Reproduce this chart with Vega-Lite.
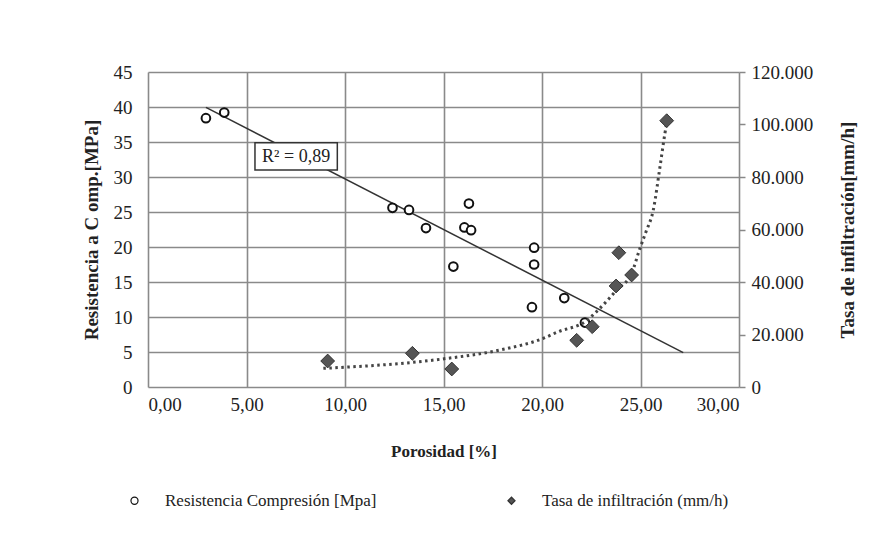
{
  "$schema": "https://vega.github.io/schema/vega-lite/v6.json",
  "width": 591,
  "height": 315,
  "autosize": {"type": "none"},
  "padding": {"left": 148, "top": 72, "right": 154, "bottom": 160},
  "background": "white",
  "config": {
    "locale": {"number": {"decimal": ",", "thousands": ".", "grouping": [3], "currency": ["", " €"]}},
    "font": "Liberation Serif",
    "view": {"stroke": null},
    "axis": {
      "gridColor": "#8a8a8a",
      "gridWidth": 1.6,
      "gridOpacity": 1,
      "domain": false,
      "labelFont": "Liberation Serif",
      "labelFontSize": 19,
      "labelColor": "#222",
      "titleFont": "Liberation Serif",
      "titleFontSize": 17,
      "titleColor": "#222",
      "titleFontWeight": "bold"
    },
    "legend": {
      "labelLimit": 400
    }
  },
  "datasets": {
    "resistencia": [
      {"porosidad": 2.94, "valor": 38.4, "serie": "Resistencia Compresión [Mpa]"},
      {"porosidad": 3.87, "valor": 39.2, "serie": "Resistencia Compresión [Mpa]"},
      {"porosidad": 12.41, "valor": 25.6, "serie": "Resistencia Compresión [Mpa]"},
      {"porosidad": 13.25, "valor": 25.3, "serie": "Resistencia Compresión [Mpa]"},
      {"porosidad": 14.11, "valor": 22.7, "serie": "Resistencia Compresión [Mpa]"},
      {"porosidad": 15.5, "valor": 17.2, "serie": "Resistencia Compresión [Mpa]"},
      {"porosidad": 16.06, "valor": 22.8, "serie": "Resistencia Compresión [Mpa]"},
      {"porosidad": 16.29, "valor": 26.2, "serie": "Resistencia Compresión [Mpa]"},
      {"porosidad": 16.4, "valor": 22.4, "serie": "Resistencia Compresión [Mpa]"},
      {"porosidad": 19.49, "valor": 11.4, "serie": "Resistencia Compresión [Mpa]"},
      {"porosidad": 19.6, "valor": 19.9, "serie": "Resistencia Compresión [Mpa]"},
      {"porosidad": 19.6, "valor": 17.5, "serie": "Resistencia Compresión [Mpa]"},
      {"porosidad": 21.13, "valor": 12.7, "serie": "Resistencia Compresión [Mpa]"},
      {"porosidad": 22.18, "valor": 9.2, "serie": "Resistencia Compresión [Mpa]"}
    ],
    "tasa": [
      {"porosidad": 9.12, "valor": 9900, "serie": "Tasa de infiltración (mm/h)"},
      {"porosidad": 13.42, "valor": 12840, "serie": "Tasa de infiltración (mm/h)"},
      {"porosidad": 15.42, "valor": 6860, "serie": "Tasa de infiltración (mm/h)"},
      {"porosidad": 21.76, "valor": 17790, "serie": "Tasa de infiltración (mm/h)"},
      {"porosidad": 22.55, "valor": 22970, "serie": "Tasa de infiltración (mm/h)"},
      {"porosidad": 23.76, "valor": 38480, "serie": "Tasa de infiltración (mm/h)"},
      {"porosidad": 23.9, "valor": 51160, "serie": "Tasa de infiltración (mm/h)"},
      {"porosidad": 24.55, "valor": 42670, "serie": "Tasa de infiltración (mm/h)"},
      {"porosidad": 26.33, "valor": 101450, "serie": "Tasa de infiltración (mm/h)"}
    ],
    "tendenciaLineal": [
      {"porosidad": 2.94, "valor": 39.95},
      {"porosidad": 27.17, "valor": 4.9}
    ],
    "etiquetaR2": [
      {"porosidad": 5.43, "porosidad2": 9.61, "valor": 34.9, "valor2": 31.0, "porosidadTexto": 7.52, "valorTexto": 32.9, "texto": "R² = 0,89"}
    ],
    "tendenciaTasa": [
      {"porosidad": 8.9, "valor": 7100},
      {"porosidad": 14.82, "valor": 10550},
      {"porosidad": 17.87, "valor": 14100},
      {"porosidad": 20.07, "valor": 18550},
      {"porosidad": 20.83, "valor": 21070},
      {"porosidad": 22.18, "valor": 24880},
      {"porosidad": 22.94, "valor": 29980},
      {"porosidad": 23.79, "valor": 36950},
      {"porosidad": 24.55, "valor": 43300},
      {"porosidad": 24.97, "valor": 52800},
      {"porosidad": 25.28, "valor": 59160},
      {"porosidad": 25.65, "valor": 67430},
      {"porosidad": 25.99, "valor": 83920},
      {"porosidad": 26.24, "valor": 96650},
      {"porosidad": 26.33, "valor": 100500}
    ]
  },
  "layer": [
    {
      "encoding": {
        "x": {
          "field": "porosidad", "type": "quantitative",
          "scale": {"domain": [0, 30], "nice": false},
          "axis": {"values": [0, 5, 10, 15, 20, 25, 30], "format": ",.2f", "title": "Porosidad [%]", "ticks": false, "labelPadding": 8, "titlePadding": 29, "grid": true}
        },
        "y": {
          "field": "valor", "type": "quantitative",
          "scale": {"domain": [0, 45], "nice": false},
          "axis": {"values": [0, 5, 10, 15, 20, 25, 30, 35, 40, 45], "format": "d", "title": "Resistencia a C omp.[MPa]", "titleFontSize": 19, "ticks": false, "labelPadding": 16, "titlePadding": 12, "grid": true}
        }
      },
      "layer": [
        {
          "data": {"name": "tendenciaLineal"},
          "mark": {"type": "line", "color": "#333", "strokeWidth": 1.5}
        },
        {
          "data": {"name": "etiquetaR2"},
          "mark": {"type": "rect", "fill": "white", "stroke": "#333", "strokeWidth": 1.5},
          "encoding": {
            "x2": {"field": "porosidad2"},
            "y2": {"field": "valor2"}
          }
        },
        {
          "data": {"name": "etiquetaR2"},
          "mark": {"type": "text", "font": "Liberation Serif", "fontSize": 18, "color": "#222", "align": "center", "baseline": "middle"},
          "encoding": {
            "x": {"field": "porosidadTexto", "type": "quantitative"},
            "y": {"field": "valorTexto", "type": "quantitative"},
            "text": {"field": "texto"}
          }
        },
        {
          "data": {"name": "resistencia"},
          "mark": {"type": "point", "size": 75, "strokeWidth": 2, "opacity": 1},
          "encoding": {
            "shape": {"field": "serie", "type": "nominal", "scale": {"domain": ["Resistencia Compresión [Mpa]", "Tasa de infiltración (mm/h)"], "range": ["circle", "diamond"]}, "legend": {"title": null, "orient": "none", "legendX": -22, "legendY": 420, "direction": "horizontal", "columnPadding": 126, "labelFont": "Liberation Serif", "labelFontSize": 17, "labelColor": "#222", "symbolSize": 50, "labelOffset": 22, "symbolStrokeWidth": 1.2, "labelLimit": 400}},
            "fill": {"field": "serie", "type": "nominal", "scale": {"domain": ["Resistencia Compresión [Mpa]", "Tasa de infiltración (mm/h)"], "range": ["white", "#555"]}, "legend": {"title": null, "orient": "none", "legendX": -22, "legendY": 420, "direction": "horizontal", "columnPadding": 126, "labelFont": "Liberation Serif", "labelFontSize": 17, "labelColor": "#222", "symbolSize": 50, "labelOffset": 22, "symbolStrokeWidth": 1.2, "labelLimit": 400}},
            "stroke": {"field": "serie", "type": "nominal", "scale": {"domain": ["Resistencia Compresión [Mpa]", "Tasa de infiltración (mm/h)"], "range": ["#111", "#333"]}, "legend": {"title": null, "orient": "none", "legendX": -22, "legendY": 420, "direction": "horizontal", "columnPadding": 126, "labelFont": "Liberation Serif", "labelFontSize": 17, "labelColor": "#222", "symbolSize": 50, "labelOffset": 22, "symbolStrokeWidth": 1.2, "labelLimit": 400}}
          }
        }
      ]
    },
    {
      "encoding": {
        "x": {
          "field": "porosidad", "type": "quantitative",
          "scale": {"domain": [0, 30], "nice": false},
          "axis": {"values": [0, 5, 10, 15, 20, 25, 30], "format": ",.2f", "title": "Porosidad [%]", "ticks": false, "labelPadding": 8, "titlePadding": 29, "grid": true}
        },
        "y": {
          "field": "valor", "type": "quantitative",
          "scale": {"domain": [0, 120000], "nice": false},
          "axis": {"orient": "right", "values": [0, 20000, 40000, 60000, 80000, 100000, 120000], "format": ",d", "title": "Tasa de infiltración[mm/h]", "titleFontSize": 19, "titleAngle": 270, "ticks": true, "tickSize": 6, "tickColor": "#888", "tickWidth": 1.5, "labelPadding": 6, "titlePadding": 45, "grid": false}
        }
      },
      "layer": [
        {
          "data": {"name": "tendenciaTasa"},
          "mark": {"type": "line", "color": "#444", "strokeWidth": 3, "strokeDash": [2.5, 3.5], "interpolate": "monotone"}
        },
        {
          "data": {"name": "tasa"},
          "mark": {"type": "point", "size": 190, "strokeWidth": 1, "opacity": 1},
          "encoding": {
            "shape": {"field": "serie", "type": "nominal", "scale": {"domain": ["Resistencia Compresión [Mpa]", "Tasa de infiltración (mm/h)"], "range": ["circle", "diamond"]}, "legend": {"title": null, "orient": "none", "legendX": -22, "legendY": 420, "direction": "horizontal", "columnPadding": 126, "labelFont": "Liberation Serif", "labelFontSize": 17, "labelColor": "#222", "symbolSize": 50, "labelOffset": 22, "symbolStrokeWidth": 1.2, "labelLimit": 400}},
            "fill": {"field": "serie", "type": "nominal", "scale": {"domain": ["Resistencia Compresión [Mpa]", "Tasa de infiltración (mm/h)"], "range": ["white", "#555"]}, "legend": {"title": null, "orient": "none", "legendX": -22, "legendY": 420, "direction": "horizontal", "columnPadding": 126, "labelFont": "Liberation Serif", "labelFontSize": 17, "labelColor": "#222", "symbolSize": 50, "labelOffset": 22, "symbolStrokeWidth": 1.2, "labelLimit": 400}},
            "stroke": {"field": "serie", "type": "nominal", "scale": {"domain": ["Resistencia Compresión [Mpa]", "Tasa de infiltración (mm/h)"], "range": ["#111", "#333"]}, "legend": {"title": null, "orient": "none", "legendX": -22, "legendY": 420, "direction": "horizontal", "columnPadding": 126, "labelFont": "Liberation Serif", "labelFontSize": 17, "labelColor": "#222", "symbolSize": 50, "labelOffset": 22, "symbolStrokeWidth": 1.2, "labelLimit": 400}}
          }
        }
      ]
    }
  ],
  "resolve": {"scale": {"y": "independent"}}
}
